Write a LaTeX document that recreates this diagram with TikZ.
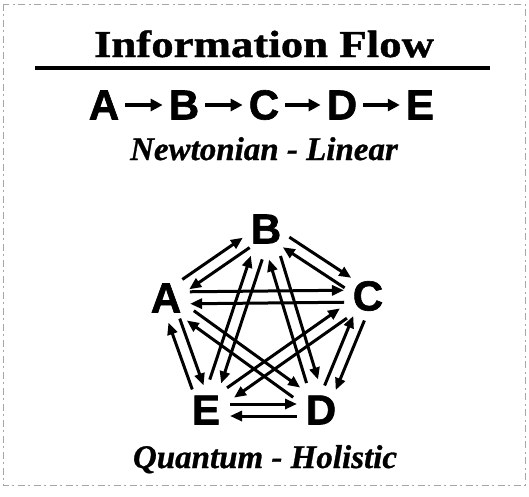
\documentclass[tikz,border=0pt]{standalone}
\usepackage{fontspec}
\setmainfont{Liberation Serif}
\setsansfont{Liberation Sans}
\newfontfamily\titlefont[FakeStretch=1.18,FakeBold=1]{Liberation Serif}
\newfontfamily\captfont[FakeBold=0.8]{Liberation Serif}
\newfontfamily\letterfont[FakeBold=1.5]{Liberation Sans}
\usetikzlibrary{arrows.meta,calc}
\begin{document}
\begin{tikzpicture}[x=1pt,y=-1pt]
        \tikzstyle{letter}=[font=\letterfont\bfseries\fontsize{42}{42}\selectfont,inner sep=6pt]
        \tikzstyle{caption}=[font=\captfont\bfseries\itshape\fontsize{33}{33}\selectfont,anchor=base]
        \tikzstyle{rowedge}=[draw,line width=3.5pt,-{Triangle[length=12pt,width=12pt]}]
        \tikzstyle{flow}=[draw,line width=3pt,-{Triangle[length=12pt,width=10pt]},shorten <=24pt,shorten >=24pt]
        \tikzstyle{longflow}=[flow,shorten <=30pt,shorten >=30pt]
        \useasboundingbox (0,0) rectangle (529,496);
        \draw[gray!70,line width=0.8pt,dash pattern=on 7pt off 3pt on 2pt off 4pt] (3,4) rectangle (525,485);
        % title
        \node [font=\titlefont\bfseries\fontsize{38}{38}\selectfont,anchor=base] (title) at (264,57) {Information Flow};
        \coordinate (ul) at (35,68);
        \coordinate (ur) at (490,68);
        \draw[line width=3.5pt] (ul) -- (ur);
        % linear chain
        \begin{scope}
         \node [letter] (ra) at (104,105) {A};
         \node [letter] (rb) at (184,105) {B};
         \node [letter] (rc) at (264,105) {C};
         \node [letter] (rd) at (342,105) {D};
         \node [letter] (re) at (420,105) {E};
         \draw[rowedge] (ra) -- (rb);
         \draw[rowedge] (rb) -- (rc);
         \draw[rowedge] (rc) -- (rd);
         \draw[rowedge] (rd) -- (re);
         \node [caption] (newton) at (264,160) {Newtonian - Linear};
        \end{scope}
        % pentagon
        \begin{scope}
         \node [letter] (qb) at (266,229) {B};
         \node [letter] (qa) at (166,298) {A};
         \node [letter] (qc) at (368,296) {C};
         \node [letter] (qe) at (206,410) {E};
         \node [letter] (qd) at (321,410) {D};
         \draw[flow] ($(qa)!6pt!90:(qb)$) -- ($(qb)!6pt!-90:(qa)$);
         \draw[flow] ($(qb)!6pt!90:(qa)$) -- ($(qa)!6pt!-90:(qb)$);
         \draw[flow] ($(qb)!6pt!90:(qc)$) -- ($(qc)!6pt!-90:(qb)$);
         \draw[flow] ($(qc)!6pt!90:(qb)$) -- ($(qb)!6pt!-90:(qc)$);
         \draw[flow] ($(qc)!6pt!90:(qd)$) -- ($(qd)!6pt!-90:(qc)$);
         \draw[flow] ($(qd)!6pt!90:(qc)$) -- ($(qc)!6pt!-90:(qd)$);
         \draw[flow] ($(qd)!6pt!90:(qe)$) -- ($(qe)!6pt!-90:(qd)$);
         \draw[flow] ($(qe)!6pt!90:(qd)$) -- ($(qd)!6pt!-90:(qe)$);
         \draw[flow] ($(qe)!6pt!90:(qa)$) -- ($(qa)!6pt!-90:(qe)$);
         \draw[flow] ($(qa)!6pt!90:(qe)$) -- ($(qe)!6pt!-90:(qa)$);
         \draw[flow] ($(qa)!6pt!90:(qc)$) -- ($(qc)!6pt!-90:(qa)$);
         \draw[flow] ($(qc)!6pt!90:(qa)$) -- ($(qa)!6pt!-90:(qc)$);
         \draw[longflow] ($(qa)!6pt!90:(qd)$) -- ($(qd)!6pt!-90:(qa)$);
         \draw[longflow] ($(qd)!6pt!90:(qa)$) -- ($(qa)!6pt!-90:(qd)$);
         \draw[longflow] ($(qb)!6pt!90:(qe)$) -- ($(qe)!6pt!-90:(qb)$);
         \draw[longflow] ($(qe)!6pt!90:(qb)$) -- ($(qb)!6pt!-90:(qe)$);
         \draw[longflow] ($(qb)!6pt!90:(qd)$) -- ($(qd)!6pt!-90:(qb)$);
         \draw[longflow] ($(qd)!6pt!90:(qb)$) -- ($(qb)!6pt!-90:(qd)$);
         \draw[longflow] ($(qc)!6pt!90:(qe)$) -- ($(qe)!6pt!-90:(qc)$);
         \draw[longflow] ($(qe)!6pt!90:(qc)$) -- ($(qc)!6pt!-90:(qe)$);
         \node [caption] (quantum) at (265,468) {Quantum - Holistic};
        \end{scope}
\end{tikzpicture}
\end{document}
